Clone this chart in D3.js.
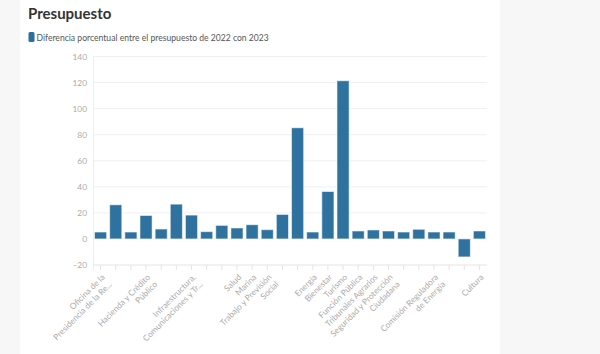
<!DOCTYPE html>
<html><head><meta charset="utf-8">
<script src="https://cdn.jsdelivr.net/npm/d3@7"></script>
<style>
html,body{margin:0;padding:0;background:#f7f7f7;}
svg{display:block;}
</style></head>
<body>
<svg id="c" width="600" height="354"></svg>
<script>
const categories = [
  "Oficina de la Presidencia de la República","Gobernación","Relaciones Exteriores",
  "Hacienda y Crédito Público","Defensa Nacional","Agricultura y Desarrollo Rural",
  "Infraestructura, Comunicaciones y Transportes","Economía","Educación Pública",
  "Salud","Marina","Trabajo y Previsión Social","Desarrollo Agrario, Territorial y Urbano",
  "Medio Ambiente y Recursos Naturales","Energía","Bienestar","Turismo","Función Pública",
  "Tribunales Agrarios","Seguridad y Protección Ciudadana","Consejería Jurídica del Ejecutivo Federal",
  "Ciencia y Tecnología","Comisión Reguladora de Energía","Comisión Nacional de Hidrocarburos",
  "Entidades no Sectorizadas","Cultura"
];
const values = [5.3,26.2,5.3,18.0,7.6,26.7,18.3,5.6,10.4,8.4,10.9,7.1,18.8,85.3,
  5.3,36.4,121.4,6.1,6.9,6.1,5.3,7.4,5.3,5.3,-13.8,6.1];
const tickLabels = [
  "Oficina de la|Presidencia de la Re...","","","Hacienda y Crédito|Público","","",
  "Infraestructura,|Comunicaciones y Tr...","","","Salud","Marina","Trabajo y Previsión|Social",
  "","","Energía","Bienestar","Turismo","Función Pública","Tribunales Agrarios",
  "Seguridad y Protección|Ciudadana","","","Comisión Reguladora|de Energía","","","Cultura"
];
const yTicks = [-20,0,20,40,60,80,100,120,140];
const title = "Presupuesto";
const seriesName = "Diferencia porcentual entre el presupuesto de 2022 con 2023";

const svg = d3.select("#c");
const font = "Lato, 'Open Sans', sans-serif";
svg.append("rect").attr("x",20).attr("y",0).attr("width",480).attr("height",354).attr("fill","#fff");

svg.append("text").attr("x",28).attr("y",19).text(title)
  .attr("font-family",font).attr("font-weight","bold").attr("font-size",15).attr("fill","#333");

svg.append("rect").attr("x",28.5).attr("y",32).attr("width",6).attr("height",10).attr("rx",1.5)
  .attr("fill","#2c6e9c");
svg.append("text").attr("x",36.5).attr("y",40.5).text(seriesName)
  .attr("font-family",font).attr("font-size",8.6).attr("fill","#555");

const x = d3.scaleBand().domain(categories).range([93,487]).paddingInner(0.2).paddingOuter(0.1);
const y = d3.scaleLinear().domain([-20,140]).range([265,56.5]);

// gridlines
svg.append("g").selectAll("line").data(yTicks).join("line")
  .attr("x1",93).attr("x2",487).attr("y1",d=>y(d)).attr("y2",d=>y(d))
  .attr("stroke",d=>d===-20?"#e4e4e4":"#f0f0f0").attr("stroke-width",1);
svg.append("line").attr("x1",93.5).attr("x2",93.5).attr("y1",56).attr("y2",270)
  .attr("stroke","#eeeeee");

// y axis
const yAxis = svg.append("g").attr("transform","translate(93,0)")
  .call(d3.axisLeft(y).tickValues(yTicks).tickSize(0).tickPadding(6));
yAxis.select(".domain").remove();
yAxis.selectAll("text").attr("font-family",font).attr("font-size",8.4).attr("fill","#aaa");

// bars
svg.append("g").selectAll("rect").data(values).join("rect")
  .attr("x",(d,i)=>x(categories[i]))
  .attr("width",x.bandwidth())
  .attr("y",d=>y(Math.max(0,d)))
  .attr("height",d=>Math.abs(y(d)-y(0)))
  .attr("fill","#2f72a0")
  .attr("stroke","rgba(255,255,255,0.55)").attr("stroke-width",1);

// x axis
const xAxis = svg.append("g").attr("transform","translate(0,265)")
  .call(d3.axisBottom(x).tickSize(5).tickFormat(""));
xAxis.select(".domain").remove();
xAxis.selectAll("line").attr("stroke","#e4e4e4");

const lab = svg.append("g");
categories.forEach((c,i)=>{
  const t = tickLabels[i];
  if(!t) return;
  const cx = x(c)+x.bandwidth()/2 + 3;
  const g = lab.append("text")
    .attr("transform",`translate(${cx},276) rotate(-45)`)
    .attr("text-anchor","end")
    .attr("font-family",font).attr("font-size",8.4).attr("fill","#aaa");
  t.split("|").forEach((line,k)=>{
    g.append("tspan").attr("x",0).attr("dy",k===0?"0.3em":"1.2em").text(line);
  });
});
</script>
</body></html>
